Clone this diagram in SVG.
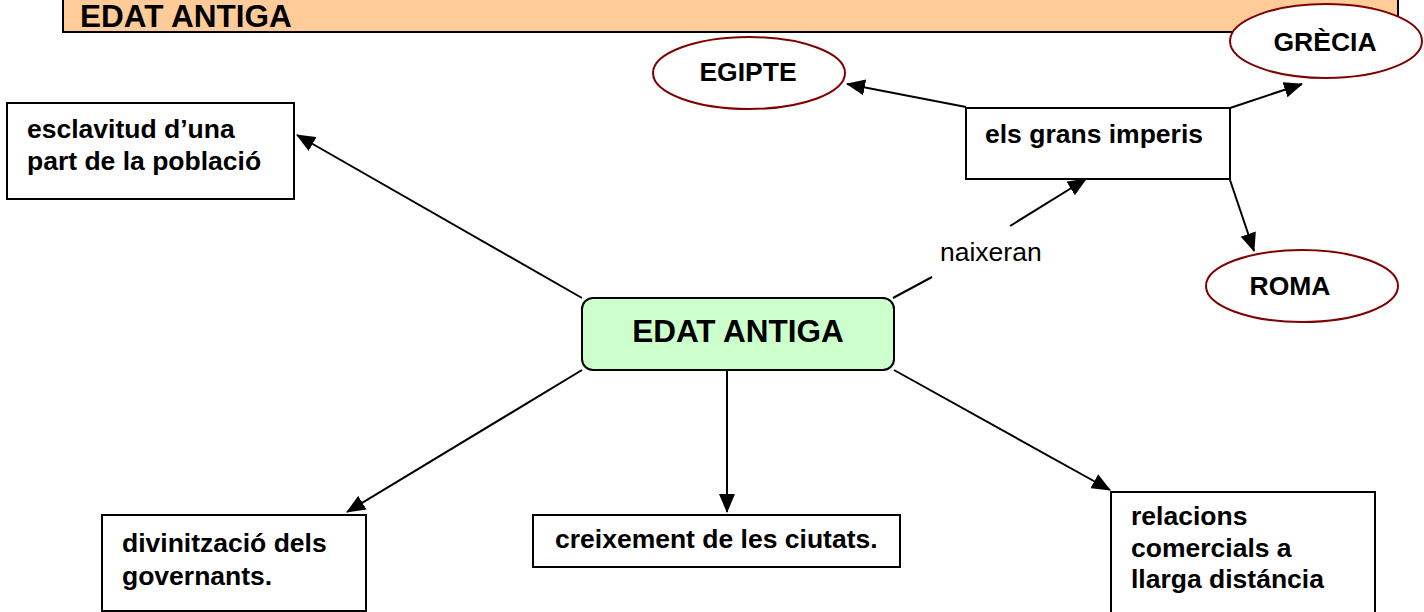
<svg xmlns="http://www.w3.org/2000/svg" width="1424" height="612" viewBox="0 0 1424 612">
<defs>
<style>
text{font-family:"Liberation Sans",Arial,sans-serif;font-size:26.5px;font-weight:bold;fill:#000}
text.big{font-size:31.5px}
.box{fill:#fff;stroke:#000;stroke-width:2}
.ell{fill:#fff;stroke:#800000;stroke-width:2}
.edge{stroke:#000;stroke-width:2;fill:none}
.arr{marker-end:url(#ah)}
text.lbl{font-weight:normal}
</style>
<marker id="ah" markerWidth="20" markerHeight="16" refX="18" refY="8" orient="auto" markerUnits="userSpaceOnUse">
<path d="M0,0 L19,8 L0,16 Z" fill="#000"/>
</marker>
</defs>
<rect width="1424" height="612" fill="#fff"/>
<g id="header">
<rect x="63" y="-5" width="1335" height="37" fill="#FFCC99" stroke="#000" stroke-width="2"/>
<text class="big" x="80" y="27">EDAT ANTIGA</text>
</g>
<g id="connectors">
<line class="edge arr" x1="582" y1="298" x2="297" y2="135"/>
<line class="edge arr" x1="582" y1="370" x2="347" y2="512"/>
<line class="edge arr" x1="727" y1="370" x2="727" y2="512"/>
<line class="edge arr" x1="894" y1="370" x2="1110" y2="490"/>
<line class="edge" x1="893" y1="298" x2="932" y2="277"/>
<line class="edge arr" x1="1010" y1="226" x2="1086" y2="179"/>
<line class="edge arr" x1="966" y1="107" x2="847" y2="84"/>
<line class="edge arr" x1="1230" y1="108" x2="1302" y2="84"/>
<line class="edge arr" x1="1230" y1="180" x2="1254" y2="251"/>
<text class="lbl" x="940" y="261">naixeran</text>
</g>
<g id="n-grecia">
<ellipse class="ell" cx="1326" cy="41" rx="96" ry="37"/>
<text x="1325" y="51" text-anchor="middle">GRÈCIA</text>
</g>
<g id="n-egipte">
<ellipse class="ell" cx="749" cy="73" rx="96" ry="36"/>
<text x="748" y="81" text-anchor="middle">EGIPTE</text>
</g>
<g id="n-imperis">
<rect class="box" x="966" y="108" width="264" height="71"/>
<text x="985" y="143">els grans imperis</text>
</g>
<g id="n-roma">
<ellipse class="ell" cx="1302" cy="286" rx="96" ry="36"/>
<text x="1290" y="295" text-anchor="middle">ROMA</text>
</g>
<g id="n-central">
<rect x="582" y="298" width="312" height="72" rx="11" ry="11" fill="#CCFFCC" stroke="#000" stroke-width="2"/>
<text class="big" x="738" y="342" text-anchor="middle">EDAT ANTIGA</text>
</g>
<g id="n-esclavitud">
<rect class="box" x="7" y="103" width="287" height="96"/>
<text x="27" y="138">esclavitud d’una</text>
<text x="27" y="170">part de la població</text>
</g>
<g id="n-divinitzacio">
<rect class="box" x="102" y="515" width="264" height="96"/>
<text x="122" y="552">divinització dels</text>
<text x="122" y="585">governants.</text>
</g>
<g id="n-creixement">
<rect class="box" x="533" y="515" width="367" height="52"/>
<text x="555" y="548">creixement de les ciutats.</text>
</g>
<g id="n-relacions">
<rect class="box" x="1111" y="492" width="264" height="125"/>
<text x="1131" y="525">relacions</text>
<text x="1131" y="557">comercials a</text>
<text x="1131" y="588">llarga distáncia</text>
</g>
</svg>
